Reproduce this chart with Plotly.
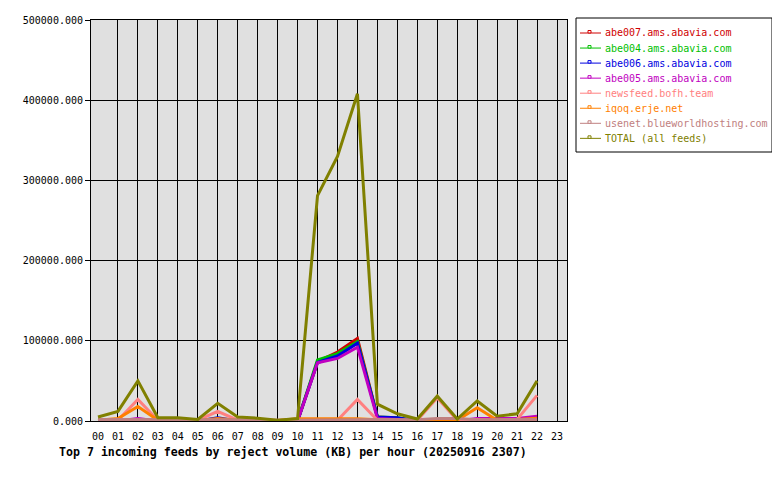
import plotly.graph_objects as go

hours = ["00", "01", "02", "03", "04", "05", "06", "07", "08", "09", "10", "11",
         "12", "13", "14", "15", "16", "17", "18", "19", "20", "21", "22", "23"]

names = ["abe007.ams.abavia.com", "abe004.ams.abavia.com", "abe006.ams.abavia.com",
         "abe005.ams.abavia.com", "newsfeed.bofh.team", "iqoq.erje.net",
         "usenet.blueworldhosting.com", "TOTAL (all feeds)"]
colors = ["#d00000", "#00c000", "#0000e0", "#c000c0", "#ff8080", "#ff8000",
          "#c08080", "#808000"]

abe007 = [0, 0, 0, 0, 0, 0, 1500, 0, 0, 0, 0, 74000, 86000, 103000, 5000, 3000, 0, 0, 0, 500, 1000, 1000, 1000, None]
abe004 = [0, 0, 0, 0, 0, 0, 1500, 0, 0, 0, 0, 76000, 84000, 99000, 5000, 4000, 0, 0, 0, 500, 2500, 1500, 1500, None]
abe006 = [0, 0, 0, 0, 0, 0, 4000, 0, 0, 0, 0, 73000, 81000, 97000, 5000, 4000, 0, 0, 0, 500, 1500, 1500, 1500, None]
abe005 = [0, 0, 3000, 0, 0, 0, 1500, 0, 0, 0, 0, 72500, 78000, 92000, 3000, 2000, 0, 0, 0, 3000, 3000, 3000, 6000, None]
newsfeed = [1000, 1000, 27000, 1000, 1000, 1000, 12000, 1000, 1000, 500, 500, 500, 1000, 27000, 1000, 1000, 1000, 29000, 1000, 2000, 1000, 2000, 32000, None]
iqoq = [1000, 3000, 18000, 1000, 500, 500, 3000, 1000, 500, 500, 2800, 2800, 2800, 2800, 1500, 500, 500, 500, 1000, 16500, 1000, 2000, 3500, None]
usenet = [2000, 2000, 2000, 2000, 2000, 2000, 2000, 2000, 1500, 1000, 1000, 1000, 1000, 1500, 2000, 1500, 1500, 3000, 3000, 1500, 1500, 1500, 2000, None]
total = [5000, 12000, 50000, 4000, 4000, 2000, 22000, 5000, 3500, 1000, 3000, 281000, 330000, 408000, 21000, 9000, 2500, 31000, 2500, 25000, 6000, 9000, 50000, None]

series = [abe007, abe004, abe006, abe005, newsfeed, iqoq, usenet, total]
yticks = [0, 100000, 200000, 300000, 400000, 500000]

FONT = "DejaVu Sans Mono"
L, R, T, B = 91, 567, 20, 421  # plot area in page pixels
OFF = 8  # default page body margin


def px(x):
    return (x - L) / (R - L)


def py(y):
    return (B - y) / (B - T)


xs = list(range(len(hours)))
fig = go.Figure()
for name, col, vals in zip(names, colors, series):
    fig.add_trace(go.Scatter(x=xs, y=vals, mode="lines", name=name,
                             line=dict(color=col, width=3), showlegend=False))

# legend box drawn in paper coordinates
shapes = [dict(type="rect", xref="paper", yref="paper", x0=px(576), x1=px(772),
               y0=py(152), y1=py(18), line=dict(color="black", width=1),
               fillcolor="white", layer="above")]
annotations = []
for i, (name, col) in enumerate(zip(names, colors)):
    yc = 33 + i * 15.05
    shapes.append(dict(type="line", xref="paper", yref="paper", x0=px(580), x1=px(601),
                       y0=py(yc), y1=py(yc), line=dict(color=col, width=1), layer="above"))
    shapes.append(dict(type="rect", xref="paper", yref="paper", x0=px(588), x1=px(591),
                       y0=py(yc), y1=py(yc - 2.5), line=dict(color=col, width=1),
                       fillcolor="white", layer="above"))
    annotations.append(dict(xref="paper", yref="paper", x=px(603), y=py(yc), text=name,
                            showarrow=False, xanchor="left", yanchor="middle",
                            font=dict(family=FONT, size=10, color=col)))

annotations.append(dict(xref="paper", yref="paper", x=px(57), y=py(452),
                        text="<b>Top 7 incoming feeds by reject volume (KB) per hour (20250916 2307)</b>",
                        showarrow=False, xanchor="left", yanchor="middle",
                        font=dict(family=FONT, size=11.6, color="black")))

fig.update_layout(
    width=780 - OFF, height=480 - OFF,
    margin=dict(l=L - OFF, r=780 - R, t=T - OFF, b=480 - B, autoexpand=False),
    paper_bgcolor="white", plot_bgcolor="#e0e0e0",
    font=dict(family=FONT, size=10, color="black"),
    showlegend=False,
    shapes=shapes, annotations=annotations,
    xaxis=dict(range=[-0.35, 23.5], tickmode="array", tickvals=xs, ticktext=hours,
               showgrid=False, zeroline=False, ticks="", ticklabelstandoff=6,
               showline=True, linecolor="black", linewidth=1, mirror=True,
               minor=dict(tickvals=xs[1:], showgrid=True, gridcolor="black",
                          gridwidth=1, ticks="")),
    yaxis=dict(range=[0, 500000], tickmode="array", tickvals=yticks, tickformat=".3f",
               showgrid=True, gridcolor="black", gridwidth=1, zeroline=False,
               ticks="outside", ticklen=5, tickcolor="black",
               showline=True, linecolor="black", linewidth=1, mirror=True),
)

fig.write_html("out.html")
